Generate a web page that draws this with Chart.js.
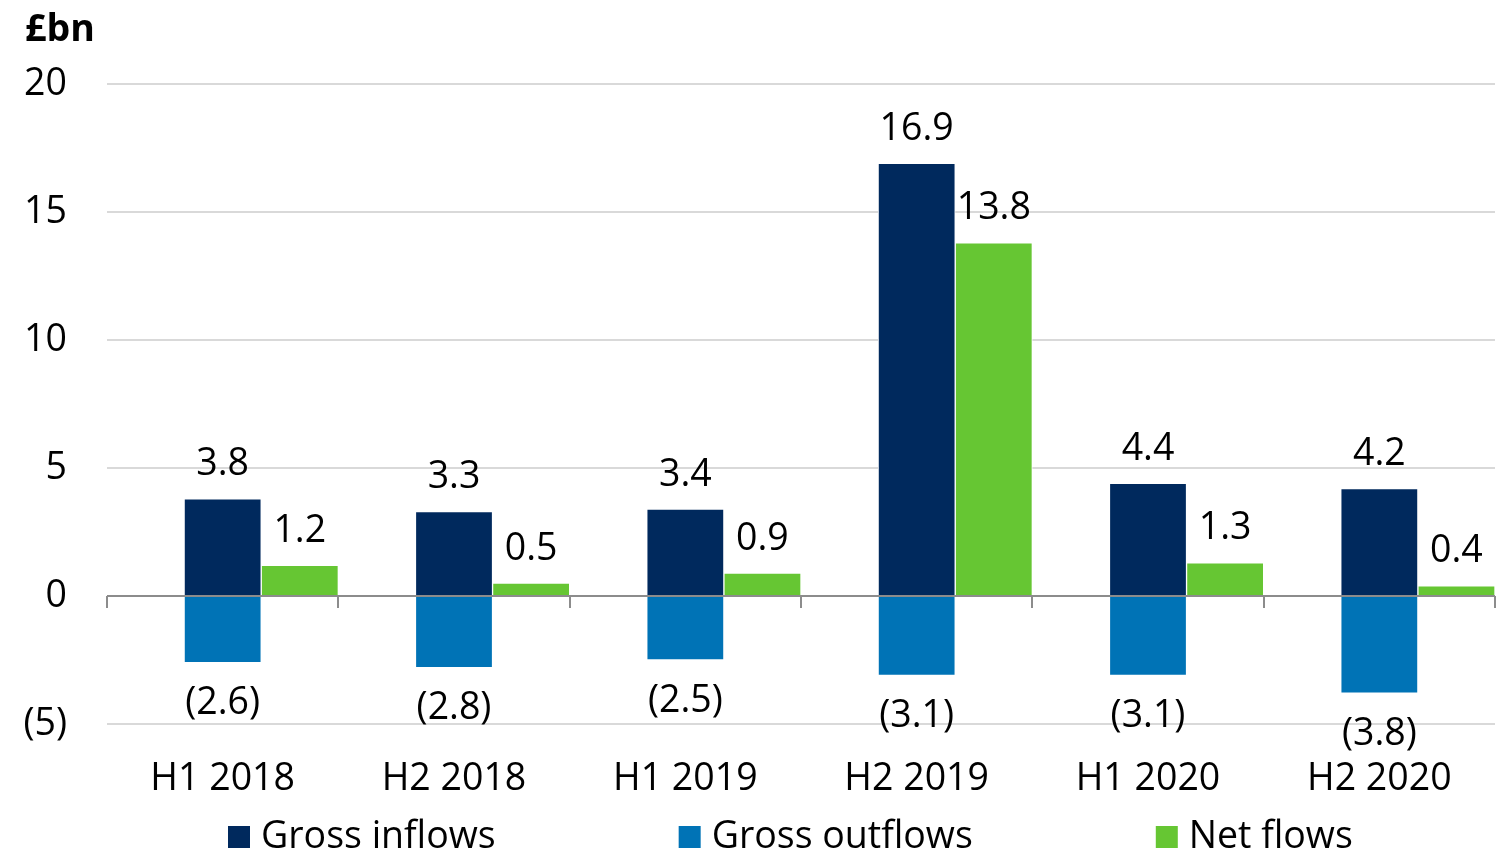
<!DOCTYPE html>
<html>
<head>
  <meta charset="UTF-8">
  <title>Gross and net flows</title>
  <script src="https://cdn.jsdelivr.net/npm/chart.js"></script>
  <style>
    html, body { margin: 0; padding: 0; background: #fff; }
    canvas { display: block; }
  </style>
</head>
<body>

  <canvas id="flowsChart" width="1504" height="852"></canvas>

  <script>
    const periods = ['H1 2018', 'H2 2018', 'H1 2019', 'H2 2019', 'H1 2020', 'H2 2020'];
    const grossInflows = [3.8, 3.3, 3.4, 16.9, 4.4, 4.2];
    const grossOutflows = [-2.6, -2.8, -2.5, -3.1, -3.1, -3.8];
    const netFlows = [1.2, 0.5, 0.9, 13.8, 1.3, 0.4];
    const yTicks = [-5, 0, 5, 10, 15, 20];

    const FONT = '"Open Sans", "Noto Sans", sans-serif';
    const SIZE = 37.5;

    // (2.6) style for negatives
    function fmt(v, digits) {
      const s = Math.abs(v).toFixed(digits);
      return v < 0 ? '(' + s + ')' : s;
    }

    // value labels above / below each bar
    const valueLabels = {
      id: 'valueLabels',
      afterDatasetsDraw(chart) {
        const ctx = chart.ctx;
        ctx.save();
        ctx.font = SIZE + 'px ' + FONT;
        ctx.fillStyle = '#000';
        ctx.textAlign = 'center';
        ctx.textBaseline = 'middle';
        chart.data.datasets.forEach((ds, di) => {
          if (!ds.label) return;
          chart.getDatasetMeta(di).data.forEach((bar, i) => {
            const v = ds.data[i];
            if (v == null) return;
            const y = v >= 0 ? bar.y - 34 : bar.y + 41;
            ctx.fillText(fmt(v, 1), bar.x, y);
          });
        });
        ctx.restore();
      }
    };

    // zero line over the bars, with tick marks between categories
    const zeroAxis = {
      id: 'zeroAxis',
      afterDatasetsDraw(chart) {
        const ctx = chart.ctx;
        const x = chart.scales.x;
        const y0 = Math.round(chart.scales.y.getPixelForValue(0));
        const area = chart.chartArea;
        ctx.save();
        ctx.strokeStyle = '#8c8c8c';
        ctx.lineWidth = 2;
        ctx.beginPath();
        ctx.moveTo(area.left, y0);
        ctx.lineTo(area.right, y0);
        const half = (x.getPixelForValue(1) - x.getPixelForValue(0)) / 2;
        for (let i = 0; i <= periods.length; i++) {
          const px = Math.round(x.getPixelForValue(i) - half);
          ctx.moveTo(px, y0);
          ctx.lineTo(px, y0 + 12);
        }
        ctx.stroke();
        ctx.restore();
      }
    };

    // legend spread out across the bottom
    const spreadLegend = {
      id: 'spreadLegend',
      afterDraw(chart) {
        const ctx = chart.ctx;
        const gap = 183;
        const box = 22;
        const cy = 837;
        let cx = 228;
        ctx.save();
        ctx.font = SIZE + 'px ' + FONT;
        ctx.textBaseline = 'middle';
        ctx.textAlign = 'left';
        chart.data.datasets.forEach(ds => {
          if (!ds.label) return;
          ctx.fillStyle = ds.backgroundColor;
          ctx.fillRect(cx, cy - box / 2, box, box);
          ctx.fillStyle = '#000';
          ctx.fillText(ds.label, cx + box + 11, cy);
          cx += box + 11 + ctx.measureText(ds.label).width + gap;
        });
        ctx.restore();
      }
    };

    new Chart(document.getElementById('flowsChart').getContext('2d'), {
      type: 'bar',
      data: {
        labels: periods,
        datasets: [
          { label: '', data: periods.map(() => null), stack: 'pad', backgroundColor: 'rgba(0,0,0,0)' },
          { label: 'Gross inflows', data: grossInflows, stack: 'gross', backgroundColor: '#00295d', borderColor: '#ffffff', borderWidth: 1 },
          { label: 'Gross outflows', data: grossOutflows, stack: 'gross', backgroundColor: '#0073b6', borderColor: '#ffffff', borderWidth: 1 },
          { label: 'Net flows', data: netFlows, stack: 'net', backgroundColor: '#66c633', borderColor: '#ffffff', borderWidth: 1 }
        ]
      },
      options: {
        responsive: false,
        animation: false,
        layout: { padding: { left: 25, right: 9, top: 0, bottom: 48 } },
        datasets: { bar: { barPercentage: 1, categoryPercentage: 1 } },
        plugins: {
          legend: { display: false },
          tooltip: { enabled: false },
          title: {
            display: true,
            text: '£bn',
            align: 'start',
            color: '#000',
            font: { family: FONT, size: SIZE, weight: 'bold' },
            padding: { top: 8, bottom: 31 }
          }
        },
        scales: {
          x: {
            stacked: true,
            grid: { display: false, drawTicks: false },
            border: { display: false },
            ticks: { color: '#000', font: { family: FONT, size: SIZE }, padding: 33, maxRotation: 0 },
            afterFit: axis => { axis.height = 80; }
          },
          y: {
            stacked: true,
            min: yTicks[0],
            max: yTicks[yTicks.length - 1],
            afterBuildTicks: axis => { axis.ticks = yTicks.map(v => ({ value: v })); },
            grid: { color: '#d9d9d9', lineWidth: 2, drawTicks: false },
            border: { display: false },
            ticks: {
              color: '#000',
              font: { family: FONT, size: SIZE },
              padding: 40,
              callback: v => fmt(v, 0)
            },
            afterFit: axis => { axis.width = 82; }
          }
        }
      },
      plugins: [valueLabels, zeroAxis, spreadLegend]
    });
  </script>

</body>
</html>
